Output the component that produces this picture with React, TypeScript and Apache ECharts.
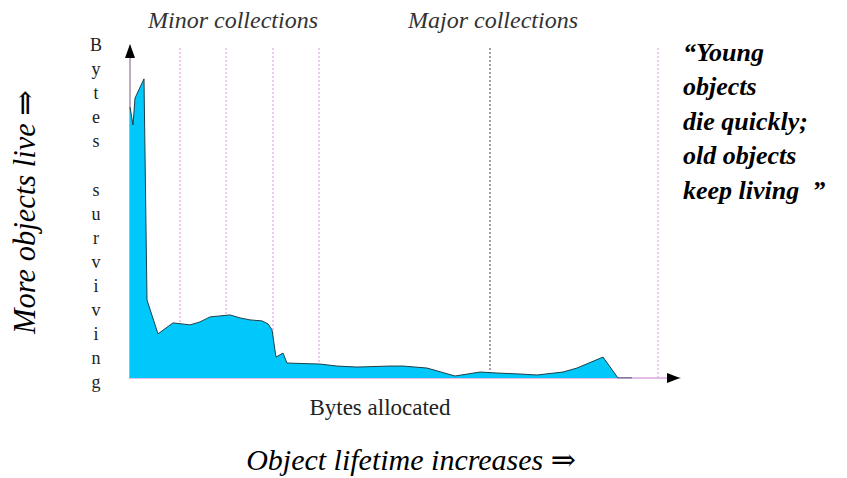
import React, { useEffect, useRef } from "react";
import * as echarts from "echarts";

// Bytes allocated (x, arbitrary units) vs bytes surviving (y, % of max)
const bytesAllocated = [0, 3, 5, 14, 17, 28, 43, 60, 70, 80, 100, 110, 120, 132, 138, 142, 146, 153, 157, 190, 207, 227, 260, 273, 297, 325, 350, 367, 390, 407, 433, 447, 473, 488, 502];
const bytesSurviving = [81.6, 76.2, 84.3, 90.1, 23.5, 13.3, 16.6, 16.0, 16.9, 18.4, 19.0, 18.1, 17.5, 17.2, 16.3, 14.5, 6.3, 7.5, 4.5, 4.2, 3.6, 3.3, 3.6, 3.6, 3.0, 0.6, 1.8, 1.5, 1.2, 0.9, 1.8, 3.0, 6.3, 0, 0];

const minorCollections = [50, 96, 143, 189];
const majorCollections = [360, 528];

const X_MAX = 550;
const Y_MAX = 100;

const quoteLines = ["\u201CYoung", "objects", "die quickly;", "old objects", "keep living  \u201D"];
const yAxisLetters = ["B", "y", "t", "e", "s", "", "s", "u", "r", "v", "i", "v", "i", "n", "g"];

const SERIF = "'Liberation Serif', 'Times New Roman', Times, 'DejaVu Serif', serif";

const txt = (text: string, size: number, opts: any = {}) => ({
  text,
  fontFamily: SERIF,
  fontSize: size,
  fontStyle: opts.italic ? "italic" : "normal",
  fontWeight: opts.bold ? "bold" : "normal",
  fill: opts.fill || "#000",
  align: opts.align || "left",
  verticalAlign: opts.verticalAlign || "middle",
});

export default function App() {
  const ref = useRef<HTMLDivElement>(null);

  useEffect(() => {
    if (!ref.current) return;
    const chart = echarts.init(ref.current, null, { renderer: "svg" });

    const vLine = (x: number, color: string) => ({
      type: "line",
      data: [[x, 0], [x, Y_MAX]],
      showSymbol: false,
      symbol: "none",
      silent: true,
      z: 1,
      lineStyle: { color, width: 1.2, type: [2, 2] },
    });

    const texts: any[] = [
      { type: "text", x: 148, y: 20, style: txt("Minor collections", 24, { italic: true, fill: "#333" }) },
      { type: "text", x: 408, y: 20, style: txt("Major collections", 24, { italic: true, fill: "#333" }) },
      { type: "text", x: 380, y: 407, style: txt("Bytes allocated", 23, { fill: "#222", align: "center" }) },
      { type: "text", x: 411, y: 459, style: txt("Object lifetime increases \u21D2", 30, { italic: true, align: "center" }) },
      { type: "text", x: 25, y: 212, rotation: Math.PI / 2, style: txt("More objects live \u21D2", 30.5, { italic: true, align: "center" }) },
    ];
    yAxisLetters.forEach((ch, i) => {
      if (!ch) return;
      texts.push({ type: "text", x: 96, y: 45 + i * 24.1, style: txt(ch, 18, { fill: "#222", align: "center" }) });
    });
    quoteLines.forEach((ln, i) => {
      texts.push({ type: "text", x: 683, y: 52 + i * 34.5, style: txt(ln, 26, { italic: true, bold: true }) });
    });

    chart.setOption({
      animation: false,
      backgroundColor: "#fff",
      grid: { left: 130, right: 167, top: 46, bottom: 100 },
      xAxis: {
        type: "value", min: 0, max: X_MAX,
        axisLine: { show: true, onZero: false, lineStyle: { color: "#dca6e0", width: 1.5 } },
        axisTick: { show: false }, axisLabel: { show: false }, splitLine: { show: false },
      },
      yAxis: {
        type: "value", min: 0, max: Y_MAX,
        axisLine: { show: true, onZero: false, lineStyle: { color: "#a890b0", width: 1.5 } },
        axisTick: { show: false }, axisLabel: { show: false }, splitLine: { show: false },
      },
      series: [
        ...minorCollections.map((x) => vLine(x, "#e8a0e4")),
        vLine(majorCollections[0], "#7a5878"),
        vLine(majorCollections[1], "#d8b0d8"),
        {
          type: "line",
          data: bytesAllocated.map((x, i) => [x, bytesSurviving[i]]),
          showSymbol: false,
          symbol: "none",
          z: 3,
          lineStyle: { color: "#1f3f48", width: 1 },
          areaStyle: { color: "#00c8fa", opacity: 1 },
        },
      ],
      graphic: texts,
    });

    const xTip = chart.convertToPixel({ gridIndex: 0 }, [X_MAX, 0]) as number[];
    const yTip = chart.convertToPixel({ gridIndex: 0 }, [0, Y_MAX]) as number[];
    chart.setOption({
      graphic: [
        ...texts,
        { type: "polygon", z: 10, shape: { points: [[xTip[0] - 13, xTip[1] - 5], [xTip[0], xTip[1]], [xTip[0] - 13, xTip[1] + 5]] }, style: { fill: "#000" } },
        { type: "polygon", z: 10, shape: { points: [[yTip[0] - 5, yTip[1] + 12], [yTip[0], yTip[1] - 2], [yTip[0] + 5, yTip[1] + 12]] }, style: { fill: "#000" } },
      ],
    });

    return () => chart.dispose();
  }, []);

  return <div ref={ref} style={{ position: "absolute", left: 0, top: 0, width: 847, height: 478 }} />;
}
